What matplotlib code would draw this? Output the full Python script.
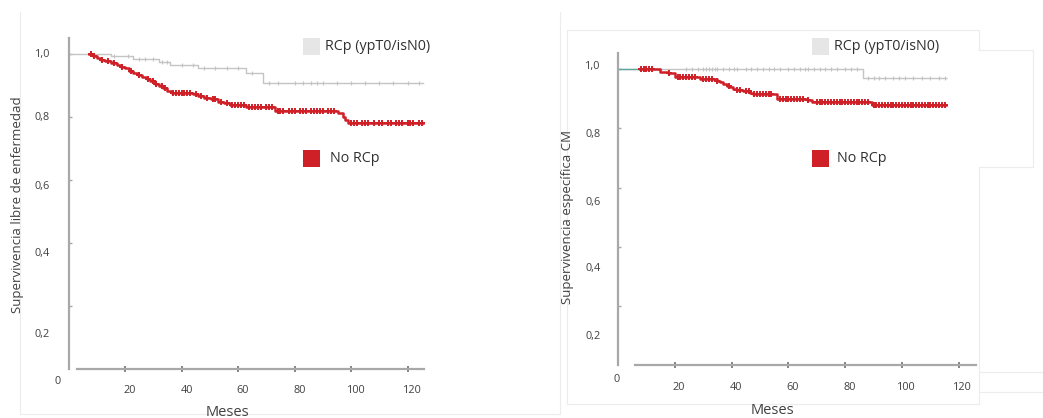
import numpy as np
import matplotlib
matplotlib.use("Agg")
import matplotlib.pyplot as plt
import matplotlib.transforms as mtransforms
from matplotlib.patches import Rectangle
from matplotlib.lines import Line2D

plt.rcParams['font.family'] = ['Open Sans', 'DejaVu Sans']

# ---------------- data ----------------
x_ticks = [20, 40, 60, 80, 100, 120]
x_tick_labels = ["20", "40", "60", "80", "100", "120"]
y_ticks = [0.2, 0.4, 0.6, 0.8, 1.0]
y_tick_labels = ["0,2", "0,4", "0,6", "0,8", "1,0"]
series_names = ["RCp (ypT0/isN0)", "No RCp"]
x_label = "Meses"
left_ylabel = "Supervivencia libre de enfermedad"
right_ylabel = "Supervivencia específica CM"

# Left panel: disease-free survival (step start times / survival)
left_rcp_t = [0, 15, 23, 32, 36, 46, 63, 69, 125.5]
left_rcp_s = [1.0, 0.994, 0.983, 0.976, 0.965, 0.955, 0.94, 0.909, 0.909]
left_rcp_cens = [16, 21, 25, 27, 30, 33, 35, 40, 44, 48, 52, 56, 60, 65, 71, 74,
                 80, 83, 86, 88, 90, 95, 100, 105, 110, 115, 120, 124]

left_no_t = [7.3, 8.5, 10, 11.5, 13, 15, 17, 18.5, 20, 21.5, 23, 24.5, 26, 27.7,
             29, 30.5, 32, 33.5, 35, 36.5, 44, 46, 48, 50.5, 53, 55, 57, 63, 73,
             95.5, 97, 98, 99, 125.5]
left_no_s = [1.0, 0.995, 0.988, 0.981, 0.977, 0.972, 0.966, 0.96, 0.954, 0.947,
             0.941, 0.934, 0.927, 0.92, 0.913, 0.905, 0.898, 0.891, 0.884, 0.876,
             0.872, 0.866, 0.861, 0.856, 0.849, 0.843, 0.838, 0.832, 0.82,
             0.812, 0.80, 0.79, 0.781, 0.781]
left_no_cens = [8, 9, 12, 14, 16, 19, 22, 25, 28, 30, 31, 33, 34, 37, 38, 39, 40,
                41, 42, 43, 45, 47, 49, 51, 52, 54, 56, 58, 59, 60, 61, 62, 64,
                65, 66, 67, 68, 70, 71, 72, 74, 75, 76, 78, 79, 80, 82, 83, 84,
                86, 87, 88, 89, 90, 92, 93, 94, 100, 101, 102, 104, 105, 106,
                108, 110, 111, 113, 114, 116, 117, 118, 120, 121, 122, 124, 125]

# Right panel: cancer-specific survival
right_shared_t = [0, 15]
right_shared_s = [1.0, 1.0]
right_rcp_t = [0, 86.2, 115.5]
right_rcp_s = [1.0, 0.970, 0.970]
right_rcp_cens = [24, 26, 28, 30, 31, 32, 33, 34, 35, 37, 39, 41, 42, 45, 47, 49,
                  51, 53, 55, 57, 60, 62, 64, 66, 67, 69, 71, 73, 75, 77, 80, 82,
                  84, 88, 90, 92, 94, 97, 99, 101, 104, 107, 110, 113, 115]

right_no_t = [7.7, 14.8, 17.7, 20, 28.9, 34.7, 36, 37.1, 38.3, 39.4, 40.6, 41.8,
              44, 46.5, 47.7, 55.9, 66.4, 68.3, 89.3, 115.5]
right_no_s = [1.0, 0.992, 0.986, 0.975, 0.966, 0.962, 0.956, 0.95, 0.945, 0.941,
              0.935, 0.93, 0.925, 0.921, 0.915, 0.9, 0.896, 0.888, 0.878, 0.878]
right_no_cens = [8, 9, 10, 11, 12, 18, 21, 22, 23, 24, 25, 26, 27, 30, 31, 32, 33,
                 35, 39, 42, 43, 45, 46, 48, 49, 50, 51, 52, 53, 54, 57, 58, 59,
                 60, 61, 62, 63, 64, 65, 67, 70, 71, 72, 73, 74, 75, 76, 77, 78,
                 79, 80, 81, 82, 83, 84, 85, 86, 87, 88, 90, 91, 92, 93, 94, 95,
                 96, 97, 98, 99, 100, 101, 102, 103, 104, 105, 106, 107, 108, 109,
                 110, 111, 112, 113, 114, 115]

# ---------------- style ----------------
RED = "#cf1f27"
GRAY_LINE = "#c4c4c4"
GRAY_BOX = "#e6e6e6"
TEAL = "#5aa9a0"
AXIS = "#a8a8a8"
TXT = "#404040"

W, H = 1043, 418
fig = plt.figure(figsize=(W / 100, H / 100), dpi=100)


def fpx(x, y):
    return x / W, 1 - y / H


def surv_at(t, s, c):
    t = np.asarray(t)
    s = np.asarray(s)
    idx = np.searchsorted(t, np.asarray(c), side='right') - 1
    return s[np.clip(idx, 0, len(s) - 1)]


def make_axes(x0, y0, ppm, ppu, ytop, xb, lab_pos, lab_dx, xlab_dx, xlab_dy, zero_xy):
    xlim = (0, 130)
    ylim = (0, 1.06)
    ax = fig.add_axes([x0 / W, (H - y0) / H, xlim[1] * ppm / W, ylim[1] * ppu / H])
    ax.set_xlim(*xlim)
    ax.set_ylim(*ylim)
    ax.patch.set_alpha(0)
    for sp in ['top', 'right']:
        ax.spines[sp].set_visible(False)
    ax.spines['left'].set_bounds(0, ytop)
    ax.spines['bottom'].set_bounds(*xb)
    for sp in ['left', 'bottom']:
        ax.spines[sp].set_color(AXIS)
        ax.spines[sp].set_linewidth(1.6)
    ax.set_yticks(y_ticks)
    ax.set_yticklabels([])
    ax.tick_params(axis='y', length=2.5, width=1, color=AXIS, direction='in')
    ax.set_xticks(x_ticks)
    ax.set_xticklabels(x_tick_labels, fontsize=7.8, color=TXT)
    ax.tick_params(axis='x', length=5, width=1.2, color="#707070", direction='inout',
                   pad=xlab_dy)
    off = mtransforms.ScaledTranslation(xlab_dx / 100, 0, fig.dpi_scale_trans)
    for lab in ax.get_xticklabels():
        lab.set_transform(lab.get_transform() + off)
    # y tick labels (placed as in the scanned figure)
    tr = ax.get_yaxis_transform()
    for yv, txt in zip(lab_pos, y_tick_labels):
        ax.text(-lab_dx / (xlim[1] * ppm), yv, txt, transform=tr, fontsize=7.8,
                color=TXT, ha='center', va='center', clip_on=False)
    fig.text(*fpx(*zero_xy), "0", fontsize=7.8, color=TXT, ha='center', va='center')
    return ax


# Left panel
axL = make_axes(68.5, 369, 2.825, 315, 1.05, (3, 126),
                [0.108, 0.368, 0.578, 0.797, 1.0], 26, 5, 9, (58, 382))
axL.step(left_rcp_t, left_rcp_s, where='post', color=GRAY_LINE, lw=1.0)
axL.plot(left_rcp_cens, surv_at(left_rcp_t, left_rcp_s, left_rcp_cens), '+',
         color=GRAY_LINE, ms=3.5, mew=0.8)
axL.step(left_no_t, left_no_s, where='post', color=RED, lw=1.8)
axL.plot(left_no_cens, surv_at(left_no_t, left_no_s, left_no_cens), '+',
         color=RED, ms=4, mew=1.4)

# Right panel
axR = make_axes(618, 365, 2.84, 295.7, 1.055, (6, 126),
                [0.095, 0.325, 0.549, 0.778, 1.009], 25, 4, 10, (617, 379))
axR.step(right_rcp_t, right_rcp_s, where='post', color=GRAY_LINE, lw=1.0)
axR.plot(right_rcp_cens, surv_at(right_rcp_t, right_rcp_s, right_rcp_cens), '+',
         color=GRAY_LINE, ms=3.5, mew=0.8)
axR.plot(right_shared_t, right_shared_s, color=TEAL, lw=1.0)
axR.step(right_no_t, right_no_s, where='post', color=RED, lw=1.8)
axR.plot(right_no_cens, surv_at(right_no_t, right_no_s, right_no_cens), '+',
         color=RED, ms=4, mew=1.4)

# Axis titles
fig.text(*fpx(18, 205), left_ylabel, rotation=90, fontsize=9.5, color=TXT,
         ha='center', va='center')
fig.text(*fpx(568, 217), right_ylabel, rotation=90, fontsize=9.5, color=TXT,
         ha='center', va='center')
fig.text(*fpx(227, 412), x_label, fontsize=10.5, color=TXT, ha='center', va='center')
fig.text(*fpx(772, 411), x_label, fontsize=10.5, color=TXT, ha='center', va='center')

# Legends (manual, as in the figure)
def legend_item(x, y, color, label, tx):
    fx, fy = fpx(x, y + 17)
    fig.add_artist(Rectangle((fx, fy), 17 / W, 17 / H, transform=fig.transFigure,
                             facecolor=color, edgecolor='none'))
    fig.text(*fpx(tx, y + 8.5), label, fontsize=10.3, color="#303030",
             ha='left', va='center')

legend_item(303, 38, GRAY_BOX, series_names[0], 325)
legend_item(303, 150, RED, series_names[1], 330)
legend_item(812, 38, GRAY_BOX, series_names[0], 834)
legend_item(812, 150, RED, series_names[1], 837)

# faint scan frame lines
FR = "#ececec"
def fline(xs, ys):
    fx = [x / W for x in xs]
    fy = [1 - y / H for y in ys]
    fig.add_artist(Line2D(fx, fy, transform=fig.transFigure, color=FR, lw=0.8))

fline([20, 20, 560, 560], [12, 414, 414, 12])
fline([567, 567, 979, 979], [404, 30, 30, 49])
fline([979, 1033, 1033, 979, 979], [50, 50, 167, 167, 404])
fline([979, 567], [404, 404])
fline([980, 1043], [372, 372])
fline([980, 1043], [392, 392])

fig.savefig("out.png", dpi=100)
